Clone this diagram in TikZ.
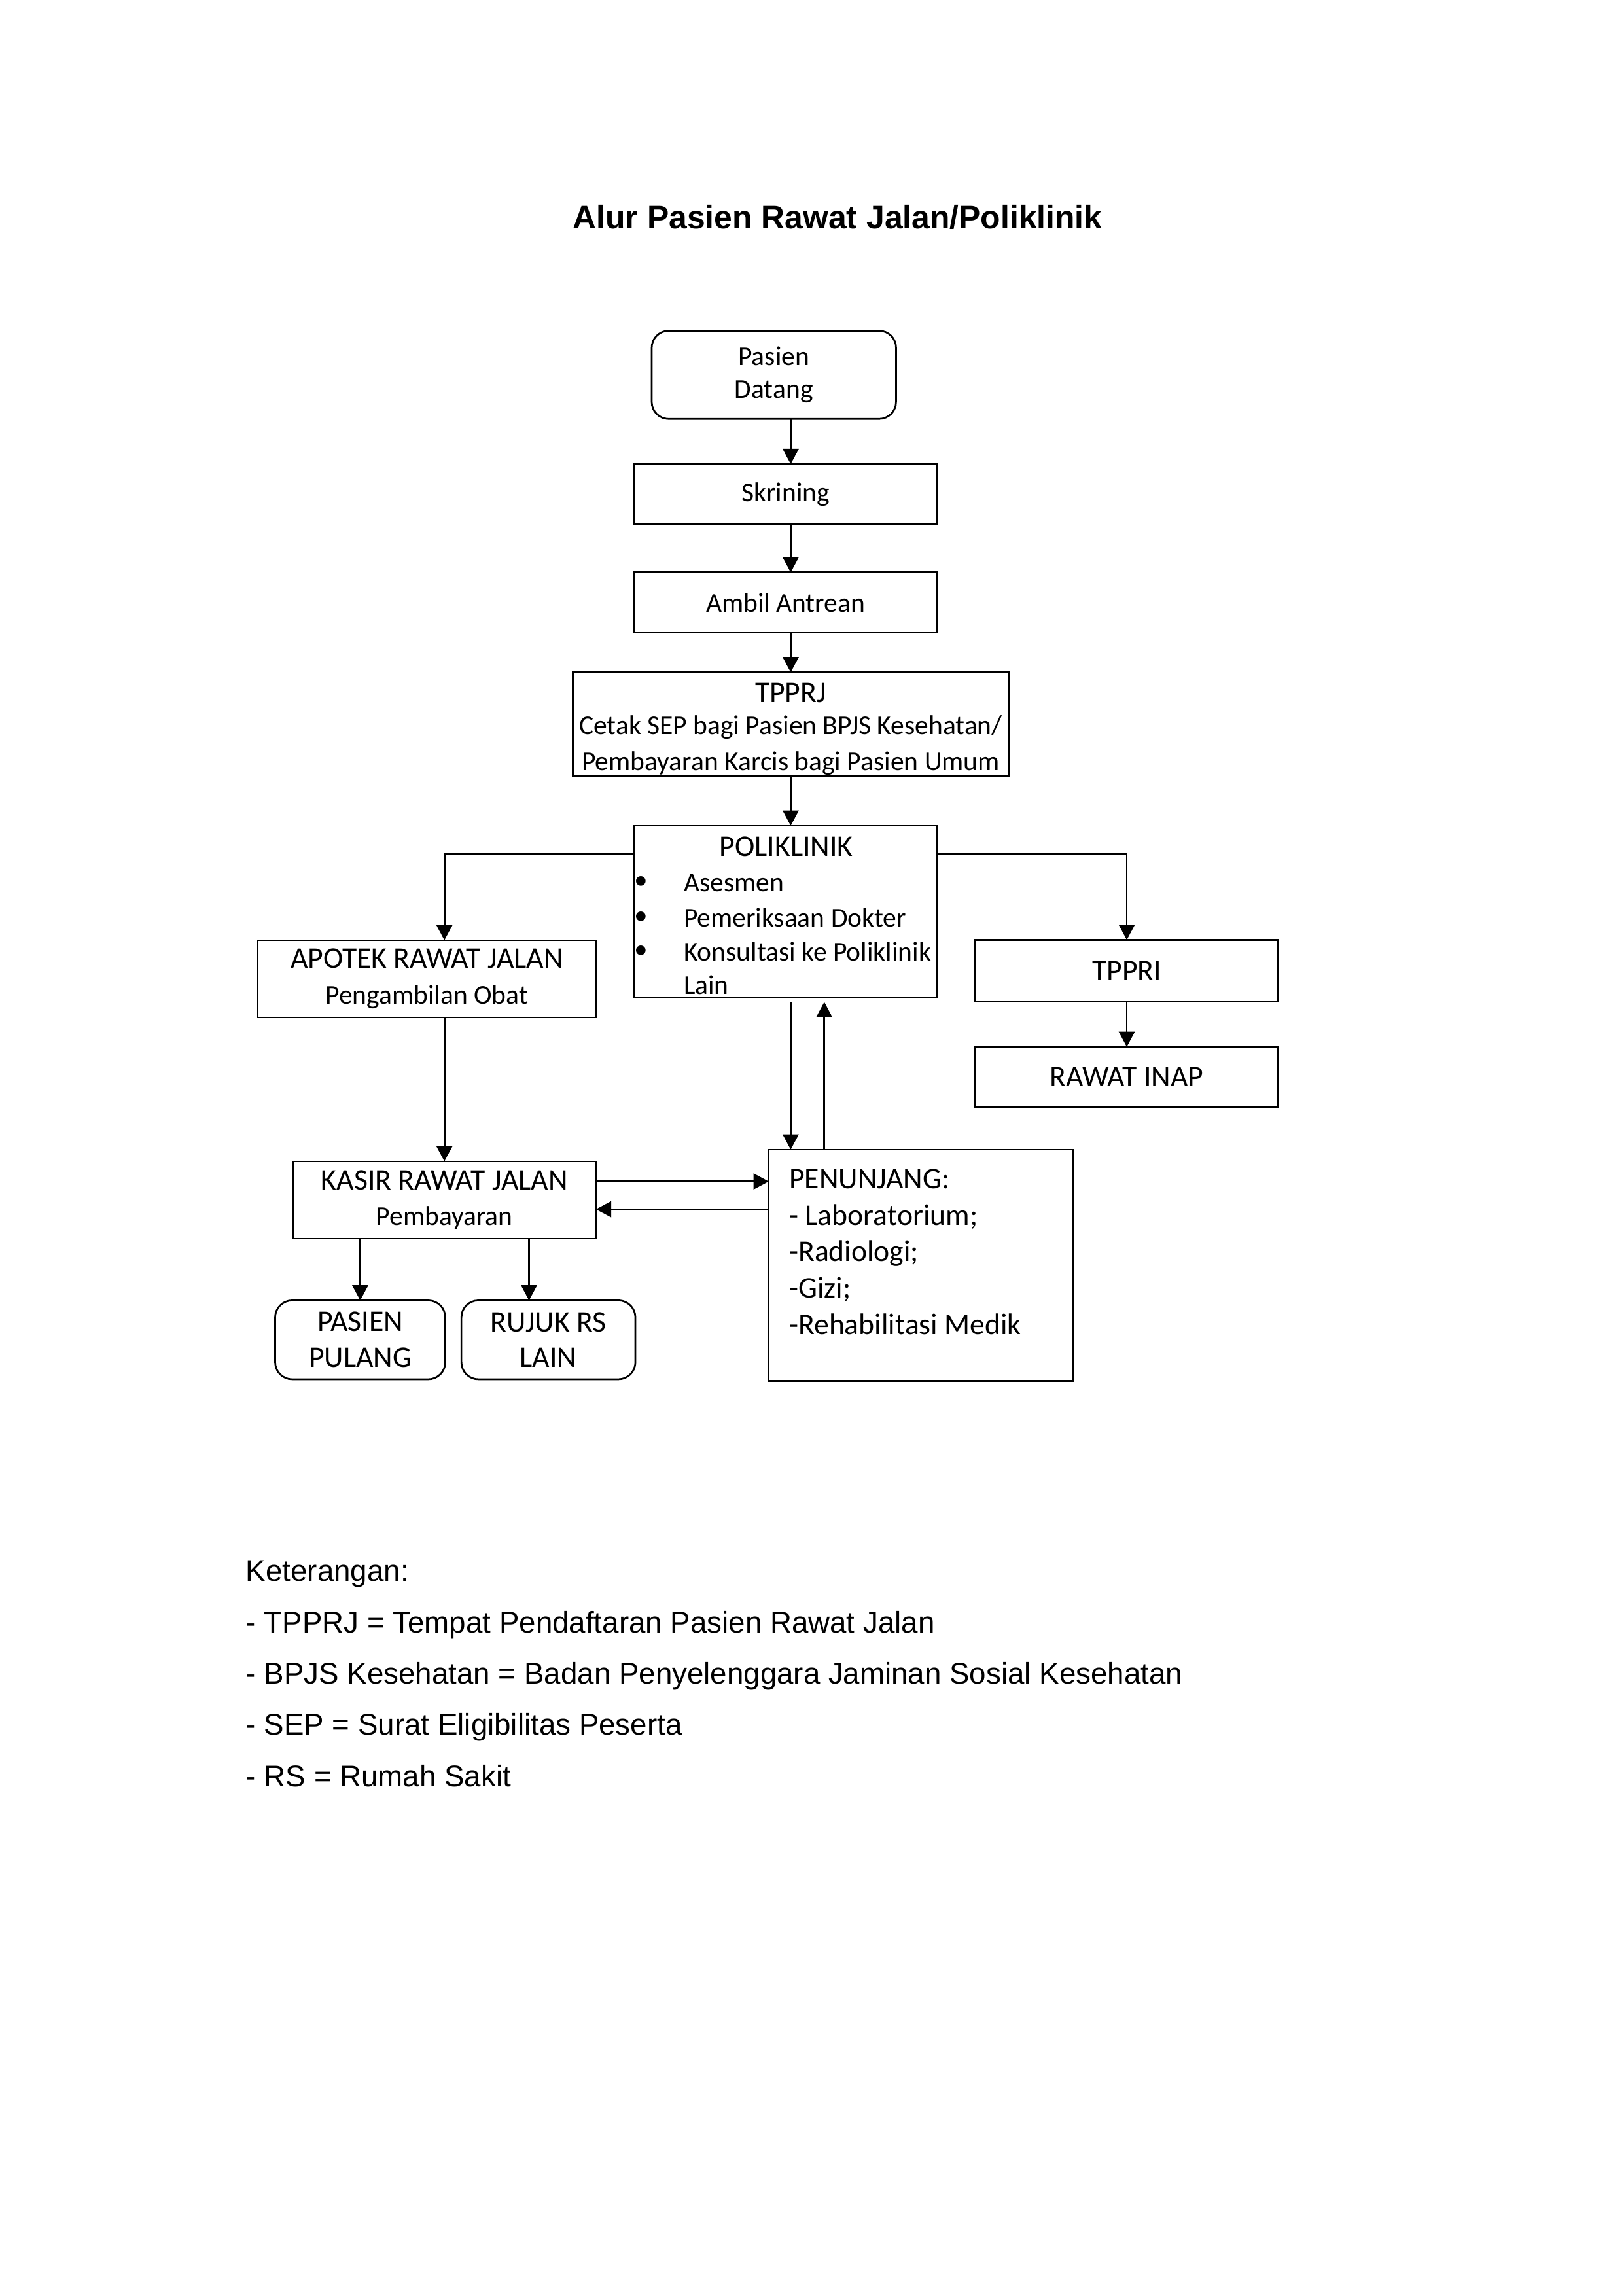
\documentclass[tikz,border=0pt]{standalone}
\usepackage{fontspec}
\setmainfont{Liberation Sans}
\newfontfamily\calibri{Carlito}
\usetikzlibrary{arrows.meta}
\newcommand{\boxsmall}{\fontsize{10}{12}\selectfont}

\begin{document}
\begin{tikzpicture}[
    x=0.018936cm, y=-0.018936cm,
    line width=0.65pt,
    every node/.style={inner sep=0pt, outer sep=0pt},
    txt/.style={font=\calibri\fontsize{11}{13.2}\selectfont},
    smalltxt/.style={font=\calibri\boxsmall},
    box/.style={draw, align=center, txt},
    roundbox/.style={box, rounded corners=0.22cm},
    flow/.style={-{Triangle[length=5.6pt, width=5.8pt]}},
    legend/.style={anchor=base west, font=\fontsize{11}{13}\selectfont}
]
\useasboundingbox (0,0) rectangle (1109,1568);

\node[anchor=base, font=\bfseries\fontsize{12}{14}\selectfont] (title) at (572,156) {Alur Pasien Rawat Jalan/Poliklinik};

% main column
\node[roundbox, smalltxt, minimum width=3.16cm, minimum height=1.14cm] (datang) at (528.5,256) {Pasien\\Datang};
\node[box, smalltxt, minimum width=3.92cm, minimum height=0.78cm] (skrining) at (536.5,337.5) {Skrining};
\node[box, smalltxt, minimum width=3.92cm, minimum height=0.78cm] (antrean) at (536.5,411.5) {Ambil Antrean};
\node[box, minimum width=5.64cm, minimum height=1.34cm] (tpprj) at (540,494.5) {TPPRJ\rule{0pt}{10.8pt}\\[-1.3pt]{\boxsmall Cetak SEP bagi Pasien BPJS Kesehatan/}\\{\boxsmall Pembayaran Karcis bagi Pasien Umum}};

\node[box, minimum width=3.92cm, minimum height=2.22cm] (poli) at (536.5,622.5) {};
\node[txt] (polititle) at (537,578) {POLIKLINIK};
\node[smalltxt] (bulletA) at (438,603) {\textbullet};
\node[smalltxt] (bulletB) at (438,627) {\textbullet};
\node[smalltxt] (bulletC) at (438,650) {\textbullet};
\node[smalltxt, anchor=base west] (asesmen) at (467,609) {Asesmen};
\node[smalltxt, anchor=base west] (periksa) at (467,633) {Pemeriksaan Dokter};
\node[smalltxt, anchor=base west] (konsul) at (467,656) {Konsultasi ke Poliklinik};
\node[smalltxt, anchor=base west] (lain) at (467,679) {Lain};

% side branches
\node[box, minimum width=4.37cm, minimum height=1.0cm] (apotek) at (291.5,668.5) {APOTEK RAWAT JALAN\\{\boxsmall Pengambilan Obat}};
\node[box, minimum width=3.92cm, minimum height=0.8cm] (tppri) at (769.5,663) {TPPRI};
\node[box, minimum width=3.92cm, minimum height=0.78cm] (rawatinap) at (769.5,735.5) {RAWAT INAP};
\node[box, minimum width=3.92cm, minimum height=1.0cm] (kasir) at (303.5,819.5) {KASIR RAWAT JALAN\\{\boxsmall Pembayaran}};
\node[box, minimum width=3.94cm, minimum height=2.99cm] (penunjang) at (629,864) {};
\node[txt, align=left, anchor=north west, font=\calibri\fontsize{11}{13.4}\selectfont] (penunjangtext) at (539,798.5) {PENUNJANG:\\- Laboratorium;\\-Radiologi;\\-Gizi;\\-Rehabilitasi Medik};
\node[roundbox, minimum width=2.2cm, minimum height=1.02cm] (pulang) at (246,915) {PASIEN\\PULANG};
\node[roundbox, minimum width=2.25cm, minimum height=1.02cm] (rujuk) at (374.5,915) {RUJUK RS\\LAIN};

% connectors
\draw[flow] (datang.south -| tpprj) -- (skrining.north -| tpprj);
\draw[flow] (skrining.south -| tpprj) -- (antrean.north -| tpprj);
\draw[flow] (antrean.south -| tpprj) -- (tpprj.north);
\draw[flow] (tpprj.south) -- (poli.north -| tpprj);
\draw[flow] ([yshift=-0.36cm]poli.north west) -| (apotek.north -| kasir.north);
\draw[flow] ([yshift=-0.36cm]poli.north east) -| (tppri.north);
\draw[flow] (tppri.south) -- (rawatinap.north);
\draw[flow] (apotek.south -| kasir.north) -- (kasir.north);
\draw[flow] ([yshift=-0.06cm]poli.south -| tpprj) -- (penunjang.north -| tpprj);
\draw[flow] ([xshift=0.5cm]poli.south |- penunjang.north) -- ([xshift=0.5cm, yshift=-0.06cm]poli.south);
\draw[flow] ([yshift=0.24cm]kasir.east) -- ([yshift=0.24cm]kasir.east -| penunjang.west);
\draw[flow] ([yshift=-0.12cm]kasir.east -| penunjang.west) -- ([yshift=-0.12cm]kasir.east);
\draw[flow] (kasir.south -| pulang.north) -- (pulang.north);
\draw[flow] ([xshift=-0.25cm]rujuk.north |- kasir.south) -- ([xshift=-0.25cm]rujuk.north);

% legend
\node[legend] (ket) at (168,1080) {Keterangan:};
\node[legend] (ketA) at (168,1115) {- TPPRJ = Tempat Pendaftaran Pasien Rawat Jalan};
\node[legend] (ketB) at (168,1150) {- BPJS Kesehatan = Badan Penyelenggara Jaminan Sosial Kesehatan};
\node[legend] (ketC) at (168,1185) {- SEP = Surat Eligibilitas Peserta};
\node[legend] (ketD) at (168,1220) {- RS = Rumah Sakit};
\end{tikzpicture}
\end{document}
